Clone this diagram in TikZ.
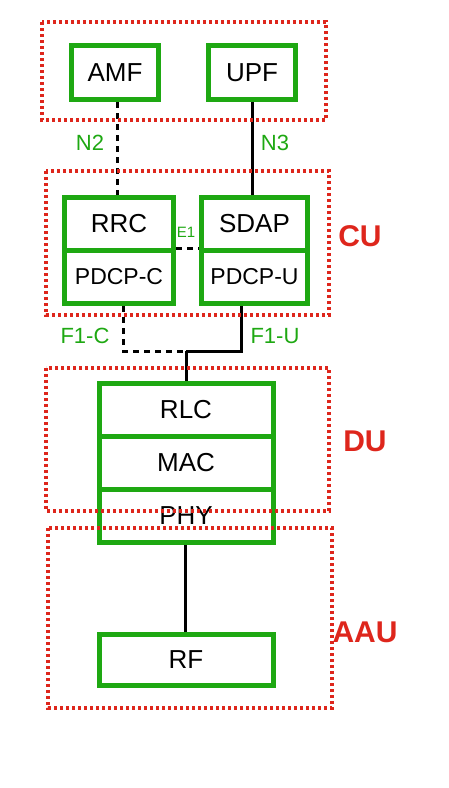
\documentclass[tikz,border=0pt]{standalone}
\usepackage{fontspec}
\setmainfont{Liberation Sans}
\usetikzlibrary{positioning}
\definecolor{layergreen}{RGB}{30,168,18}
\definecolor{splitred}{RGB}{222,38,28}

\begin{document}
\begin{tikzpicture}[x=1pt, y=-1pt,
  layer/.style={draw=layergreen, line width=5pt, fill=white, minimum height=53pt, inner sep=0pt, font=\fontsize{26}{29}\selectfont},
  zone/.style={draw=splitred, line width=3.4pt, dash pattern=on 3.2pt off 2.8pt},
  zonelabel/.style={text=splitred, font=\bfseries\fontsize{30}{34}\selectfont},
  iflabel/.style={text=layergreen, font=\fontsize{22}{26}\selectfont},
  link/.style={line width=3pt},
  dashlink/.style={line width=3pt, dash pattern=on 6pt off 5pt}]
\useasboundingbox (0,0) rectangle (449,788);

% core network
\node[layer, minimum width=87pt, minimum height=54pt] (amf) at (115,72.5) {AMF};
\node[layer, minimum width=87pt, minimum height=54pt] (upf) at (252,72.5) {UPF};

% CU
\node[layer, minimum width=109pt] (rrc) at (119,224) {RRC};
\node[layer, minimum width=109pt, font=\fontsize{23}{26}\selectfont] (pdcpc) at (119,277) {PDCP-C};
\node[layer, minimum width=106pt] (sdap) at (254.5,224) {SDAP};
\node[layer, minimum width=106pt, font=\fontsize{23}{26}\selectfont] (pdcpu) at (254.5,277) {PDCP-U};

% DU
\node[layer, minimum width=174pt] (rlc) at (186,410) {RLC};
\node[layer, minimum width=174pt] (mac) at (186,463) {MAC};
\node[layer, minimum width=174pt] (phy) at (186,516) {PHY};

% AAU
\node[layer, minimum width=174pt, minimum height=51pt] (rf) at (186,660) {RF};

% interfaces
\coordinate (f1) at (186,351);
\coordinate (f1c) at (123,351);
\coordinate (f1u) at (241,351);
\draw[dashlink] ([xshift=2pt]amf.south) -- ([xshift=2pt]amf.south |- rrc.north);
\draw[link] (upf.south) -- (upf.south |- sdap.north);
\draw[dashlink] (pdcpc.north east) -- (pdcpu.north west);
\draw[dashlink] (f1c |- pdcpc.south) -- (f1c) -- (f1);
\draw[link] (f1u |- pdcpu.south) -- (f1u) -- (f1);
\draw[link] (f1) -- (rlc.north);
\draw[link] ([xshift=-1pt]phy.south) -- ([xshift=-1pt]rf.north);

\node[iflabel] (n2) at (90,143) {N2};
\node[iflabel] (n3) at (275,143) {N3};
\node[iflabel, font=\fontsize{15}{18}\selectfont] (e1) at (186,232) {E1};
\node[iflabel] (f1clabel) at (85,336) {F1-C};
\node[iflabel] (f1ulabel) at (275,336) {F1-U};

% split zones
\draw[zone] (42,22) rectangle (326,120);
\draw[zone] (46,171) rectangle (329,315);
\draw[zone] (46,368) rectangle (329,511);
\draw[zone] (48,528) rectangle (332,708);
\node[zonelabel] (cu) at (360,236) {CU};
\node[zonelabel] (du) at (365,441) {DU};
\node[zonelabel] (aau) at (365,632) {AAU};
\end{tikzpicture}
\end{document}
